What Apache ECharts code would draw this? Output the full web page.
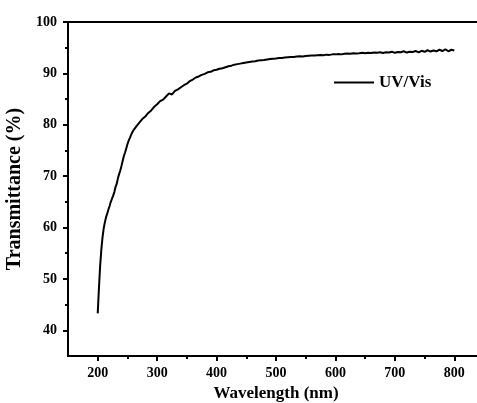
<!DOCTYPE html>
<html><head><meta charset="utf-8">
<script src="https://cdn.jsdelivr.net/npm/echarts@6/dist/echarts.min.js"></script>
<style>html,body{margin:0;padding:0;background:#fff}#c{width:477px;height:403px}</style>
</head><body><div id="c"></div>
<script>
const wavelength = [200,202,204,206,208,210,212,214,216,218,220,222,224,226,228,230,232,234,236,238,240,242,244,246,248,250,252,254,256,258,260,
265,270,275,280,285,290,295,300,305,310,315,320,325,330,335,340,345,350,355,360,365,370,375,380,385,390,395,400,
405,410,415,420,425,430,435,440,445,450,455,460,465,470,475,480,485,490,495,500,505,510,515,520,525,530,535,540,545,550,555,560,565,570,575,580,585,590,595,600,
605,610,615,620,625,630,635,640,645,650,655,660,665,670,675,680,685,690,695,700,705,710,715,720,725,730,735,740,745,750,755,760,765,770,775,780,785,790,795,800];
const transmittance = [43.3,48.1,52.4,55.6,58.0,59.8,61.0,62.0,62.7,63.5,64.2,65.0,65.6,66.2,66.9,67.9,68.5,69.6,70.4,71.1,72.0,73.0,73.9,74.6,75.4,76.2,76.9,77.4,78.0,78.5,78.9,
79.7,80.4,81.1,81.6,82.3,82.8,83.5,84.0,84.6,84.9,85.5,86.1,85.9,86.6,86.9,87.3,87.7,88.0,88.5,88.8,89.2,89.4,89.7,89.9,90.2,90.3,90.6,90.7,
90.9,91.0,91.2,91.4,91.5,91.7,91.8,91.9,92.0,92.1,92.2,92.3,92.35,92.5,92.55,92.6,92.7,92.8,92.85,92.9,93.0,93.0,93.1,93.15,93.2,93.2,93.3,93.35,93.3,93.4,93.45,93.5,93.5,93.55,93.6,93.55,93.65,93.6,93.7,93.7,
93.75,93.7,93.8,93.85,93.8,93.9,93.85,93.9,94.0,93.9,94.0,93.95,94.05,94.0,94.1,93.95,94.1,94.05,94.2,94.0,94.15,94.1,94.3,94.05,94.2,94.15,94.35,94.1,94.4,94.2,94.5,94.25,94.45,94.3,94.6,94.35,94.7,94.3,94.6,94.45];
const xTickLabels = [200,300,400,500,600,700,800];
const xMinorTicks = [250,350,450,550,650,750];
const yTickLabels = [40,50,60,70,80,90,100];
const yMinorTicks = [45,55,65,75,85,95];
const seriesName = 'UV/Vis';

const font = 'Liberation Serif';
const chart = echarts.init(document.getElementById('c'));
const axisLine = {show:true, lineStyle:{color:'#000', width:2}};
chart.setOption({
  animation:false,
  grid:{left:68, width:416, top:22, height:334, show:true, borderColor:'#000', borderWidth:2, outerBoundsMode:'none', containLabel:false},
  legend:{left:329, top:69, itemWidth:40, itemHeight:14, itemGap:9, data:[{name:seriesName, icon:'path://M0,6 L40,6 L40,8 L0,8 Z'}],
    textStyle:{fontFamily:font, fontWeight:'bold', fontSize:17, color:'#000'}, itemStyle:{color:'#000'}},
  xAxis:[{type:'value', min:150, max:850, name:'Wavelength (nm)', nameLocation:'middle', nameGap:28,
    nameTextStyle:{fontFamily:font, fontWeight:'bold', fontSize:17, color:'#000'},
    axisLine:axisLine, splitLine:{show:false},
    axisTick:{show:true, inside:false, length:5, lineStyle:{color:'#000', width:2}, customValues:xTickLabels},
    axisLabel:{customValues:xTickLabels, margin:10, fontFamily:font, fontWeight:'bold', fontSize:14, color:'#000'}},
   {type:'value', min:150, max:850, position:'bottom', axisLine:{show:false}, splitLine:{show:false},
    axisTick:{show:true, inside:false, length:3, lineStyle:{color:'#000', width:2}, customValues:xMinorTicks},
    axisLabel:{show:false}}],
  yAxis:[{type:'value', min:35, max:100, name:'Transmittance (%)', nameLocation:'middle', nameGap:37,
    nameTextStyle:{fontFamily:font, fontWeight:'bold', fontSize:20, color:'#000'},
    axisLine:axisLine, splitLine:{show:false},
    axisTick:{show:true, inside:false, length:5, lineStyle:{color:'#000', width:2}, customValues:yTickLabels},
    axisLabel:{customValues:yTickLabels, margin:11, fontFamily:font, fontWeight:'bold', fontSize:14, color:'#000'}},
   {type:'value', min:35, max:100, position:'left', axisLine:{show:false}, splitLine:{show:false},
    axisTick:{show:true, inside:false, length:3, lineStyle:{color:'#000', width:2}, customValues:yMinorTicks},
    axisLabel:{show:false}}],
  series:[{name:seriesName, type:'line', xAxisIndex:0, yAxisIndex:0, symbol:'none',
    lineStyle:{color:'#000', width:2}, itemStyle:{color:'#000'},
    data: wavelength.map((w,i)=>[w, transmittance[i]])}]
});
</script></body></html>
